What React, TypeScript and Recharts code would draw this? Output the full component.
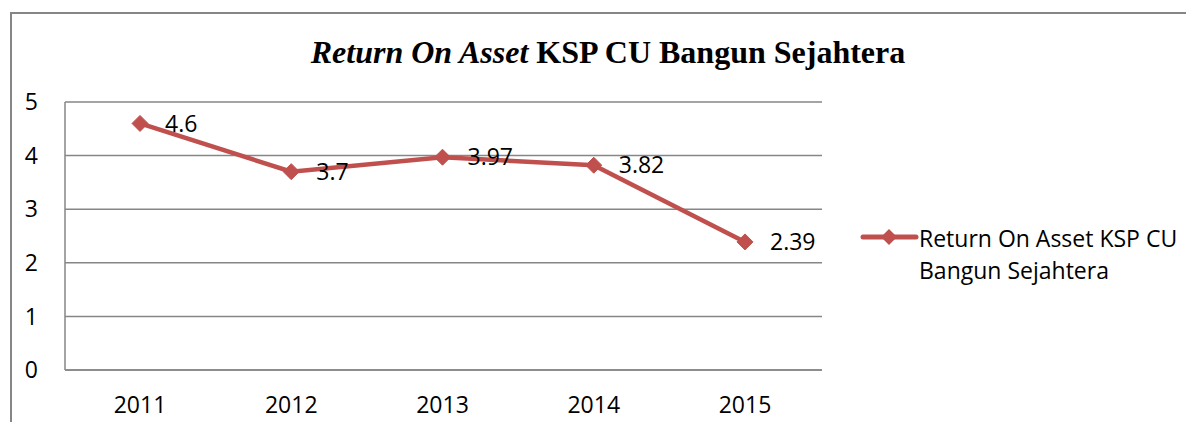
import React from 'react';
import { LineChart, Line, XAxis, YAxis, CartesianGrid, LabelList } from 'recharts';

const years = ['2011', '2012', '2013', '2014', '2015'];
const roa = [4.6, 3.7, 3.97, 3.82, 2.39];
const yTicks = [0, 1, 2, 3, 4, 5];
const legendLines = ['Return On Asset KSP CU', 'Bangun Sejahtera'];

const data = years.map((year, i) => ({ year, roa: roa[i] }));

const RED = '#C0504D';
const GRID = '#868686';
const FONT = '"Open Sans", "Noto Sans", sans-serif';
const FS = 23;

const Diamond = (props: any) => {
  const { cx, cy } = props;
  if (cx == null || cy == null) return null;
  const r = 8;
  return <path d={`M${cx},${cy - r}L${cx + r},${cy}L${cx},${cy + r}L${cx - r},${cy}Z`} fill={RED} stroke={RED} />;
};

function LegendBox() {
  return (
    <div
      style={{
        position: 'absolute',
        left: 860,
        top: 222,
        display: 'flex',
        alignItems: 'flex-start',
        fontFamily: FONT,
        fontSize: FS,
        color: '#000',
      }}
    >
      <svg width={59} height={30}>
        <line x1={3} y1={15} x2={56} y2={15} stroke={RED} strokeWidth={5} strokeLinecap="round" />
        <path d="M29,7L37,15L29,23L21,15Z" fill={RED} />
      </svg>
      <div style={{ lineHeight: '32px', marginTop: 0, width: 290, whiteSpace: 'nowrap' }}>
        {legendLines[0]}
        <br />
        {legendLines[1]}
      </div>
    </div>
  );
}

export default function App() {
  return (
    <div style={{ margin: -8, position: 'relative', width: 1194, height: 430, overflow: 'hidden', background: '#fff' }}>
      <div
        style={{
          position: 'absolute',
          left: 10,
          top: 12,
          width: 1200,
          height: 440,
          border: `2px solid ${GRID}`,
          boxSizing: 'border-box',
        }}
      />
      <div
        style={{
          position: 'absolute',
          left: 0,
          top: 34,
          width: 1216,
          textAlign: 'center',
          fontFamily: '"Liberation Serif", "Times New Roman", serif',
          fontWeight: 'bold',
          fontSize: 32,
          color: '#000',
        }}
      >
        <i>Return On Asset</i> KSP CU Bangun Sejahtera
      </div>
      <div style={{ position: 'absolute', left: 0, top: 0 }}>
        <LineChart width={1194} height={430} data={data} margin={{ top: 102, right: 372, bottom: 0, left: 0 }}>
          <CartesianGrid vertical={false} stroke={GRID} strokeWidth={1.5} />
          <XAxis
            dataKey="year"
            axisLine={{ stroke: GRID, strokeWidth: 1.5 }}
            tickLine={false}
            tickSize={0}
            tickMargin={27}
            height={60}
            padding={{ left: 75, right: 77 }}
            tick={{ fill: '#000', fontSize: FS, fontFamily: FONT }}
          />
          <YAxis
            domain={[0, 5]}
            ticks={yTicks}
            axisLine={{ stroke: GRID, strokeWidth: 1.5 }}
            tickLine={false}
            tickSize={0}
            tickMargin={27}
            width={65}
            interval={0}
            tick={{ fill: '#000', fontSize: FS, fontFamily: FONT }}
          />
          <Line
            type="linear"
            dataKey="roa"
            name={legendLines.join(' ')}
            stroke={RED}
            strokeWidth={4.5}
            dot={<Diamond />}
            activeDot={false}
            isAnimationActive={false}
          >
            <LabelList dataKey="roa" position="right" offset={25} fill="#000" fontSize={FS} fontFamily={FONT} />
          </Line>
        </LineChart>
      </div>
      <LegendBox />
    </div>
  );
}
